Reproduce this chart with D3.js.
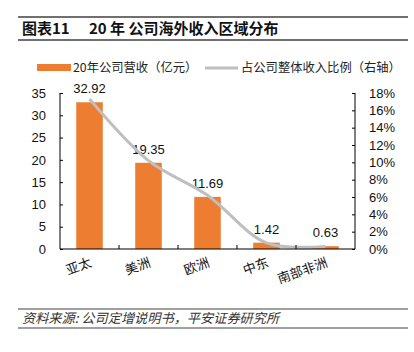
<!DOCTYPE html>
<html>
<head>
<meta charset="utf-8">
<script src="https://cdn.jsdelivr.net/npm/d3@7"></script>
<style>
  body { margin: 0; background: #fff; }
  svg { display: block; }
  text { font-family: "Liberation Sans", Arial, "Noto Sans CJK SC", sans-serif; }
</style>
</head>
<body>
<svg id="chart" width="414" height="352"></svg>
<script>
const regions = ['亚太', '美洲', '欧洲', '中东', '南部非洲']
const revenue = [32.92, 19.35, 11.69, 1.42, 0.63]
const share = [17.3, 10.2, 6.2, 0.7, 0.3]
const leftTicks = [0, 5, 10, 15, 20, 25, 30, 35]
const rightTicks = [0, 2, 4, 6, 8, 10, 12, 14, 16, 18]

const svg = d3.select('#chart')
const orange = '#ED7D31'
const grey = '#BFBFBF'
const cjk = '"Noto Sans CJK SC", "Liberation Sans", sans-serif'

// title block
svg.append('line').attr('x1', 18).attr('x2', 408).attr('y1', 17).attr('y2', 17)
  .attr('stroke', '#404040').attr('stroke-width', 1.5)
svg.append('line').attr('x1', 18).attr('x2', 408).attr('y1', 40).attr('y2', 40)
  .attr('stroke', '#404040').attr('stroke-width', 1.5)
svg.append('text').attr('x', 22).attr('y', 34)
  .attr('font-size', 15).attr('font-weight', 'bold').attr('fill', '#111')
  .style('font-family', cjk)
  .text('图表11')
svg.append('text').attr('x', 89).attr('y', 34)
  .attr('font-size', 15).attr('font-weight', 'bold').attr('fill', '#111')
  .style('font-family', cjk)
  .text('20 年 公司海外收入区域分布')

// legend
svg.append('rect').attr('x', 37).attr('y', 64).attr('width', 34).attr('height', 7).attr('fill', orange)
svg.append('text').attr('x', 73).attr('y', 72).attr('font-size', 12.3).attr('fill', '#222')
  .style('font-family', cjk).text('20年公司营收（亿元）')
svg.append('line').attr('x1', 205).attr('x2', 238).attr('y1', 68).attr('y2', 68)
  .attr('stroke', grey).attr('stroke-width', 3)
svg.append('text').attr('x', 241).attr('y', 72).attr('font-size', 12.3).attr('fill', '#222')
  .style('font-family', cjk).text('占公司整体收入比例（右轴）')

// scales
const x = d3.scaleBand().domain(regions).range([60, 355]).paddingInner(0.55).paddingOuter(0.275)
const xBand = d3.scaleBand().domain(regions).range([60, 355])
const y = d3.scaleLinear().domain([0, 35]).range([249, 93])
const y2 = d3.scaleLinear().domain([0, 18]).range([249, 93])

// bars
svg.append('g').selectAll('rect')
  .data(revenue)
  .enter()
  .append('rect')
  .attr('x', (d, i) => x(regions[i]))
  .attr('y', d => y(d))
  .attr('width', x.bandwidth())
  .attr('height', d => y(0) - y(d))
  .attr('fill', orange)

// bar labels
svg.append('g').selectAll('text')
  .data(revenue)
  .enter()
  .append('text')
  .attr('x', (d, i) => x(regions[i]) + x.bandwidth() / 2)
  .attr('y', d => y(d) - 9)
  .attr('text-anchor', 'middle')
  .attr('font-size', 13)
  .attr('fill', '#111')
  .text(d => d.toFixed(2))

// share line
const line = d3.line()
  .x((d, i) => xBand(regions[i]) + xBand.bandwidth() / 2)
  .y(d => y2(d))
  .curve(d3.curveCatmullRom.alpha(0.5))
svg.append('path')
  .attr('d', line(share))
  .attr('fill', 'none')
  .attr('stroke', grey)
  .attr('stroke-width', 3)

// left axis
const leftAxis = d3.axisLeft(y).tickValues(leftTicks).tickSize(-3).tickPadding(14)
const gl = svg.append('g').attr('transform', 'translate(60,0)').call(leftAxis)
gl.select('.domain').attr('stroke', '#000').attr('d', 'M0,93V249')
gl.selectAll('.tick line').attr('stroke', '#000')
gl.selectAll('.tick text').attr('font-size', 13).attr('fill', '#111')
  .style('font-family', '"Liberation Sans", Arial, sans-serif')

// right axis
const rightAxis = d3.axisRight(y2).tickValues(rightTicks).tickSize(-3).tickPadding(14)
  .tickFormat(d => d + '%')
const gr = svg.append('g').attr('transform', 'translate(355,0)').call(rightAxis)
gr.select('.domain').attr('stroke', '#000').attr('d', 'M0,93V249')
gr.selectAll('.tick line').attr('stroke', '#000')
gr.selectAll('.tick text').attr('font-size', 13).attr('fill', '#111')
  .style('font-family', '"Liberation Sans", Arial, sans-serif')

// bottom axis
svg.append('line').attr('x1', 60).attr('x2', 355).attr('y1', 249).attr('y2', 249)
  .attr('stroke', '#000').attr('stroke-width', 1)
svg.append('g').selectAll('line')
  .data(regions.slice(1))
  .enter()
  .append('line')
  .attr('x1', d => xBand(d)).attr('x2', d => xBand(d))
  .attr('y1', 245).attr('y2', 249)
  .attr('stroke', '#000')

// category labels
svg.append('g').selectAll('text')
  .data(regions)
  .enter()
  .append('text')
  .attr('transform', d => `translate(${xBand(d) + xBand.bandwidth() / 2 + 3},${266}) rotate(-20)`)
  .attr('text-anchor', 'end')
  .attr('font-size', 13)
  .attr('fill', '#111')
  .style('font-family', cjk)
  .text(d => d)

// source
svg.append('line').attr('x1', 18).attr('x2', 408).attr('y1', 309).attr('y2', 309)
  .attr('stroke', '#404040').attr('stroke-width', 1.2)
svg.append('line').attr('x1', 18).attr('x2', 408).attr('y1', 328).attr('y2', 328)
  .attr('stroke', '#404040').attr('stroke-width', 1.2)
svg.append('text').attr('x', 22).attr('y', 323)
  .attr('font-size', 13.2).attr('fill', '#333').attr('font-style', 'italic')
  .style('font-family', cjk)
  .text('资料来源: 公司定增说明书，平安证券研究所')
</script>
</body>
</html>
